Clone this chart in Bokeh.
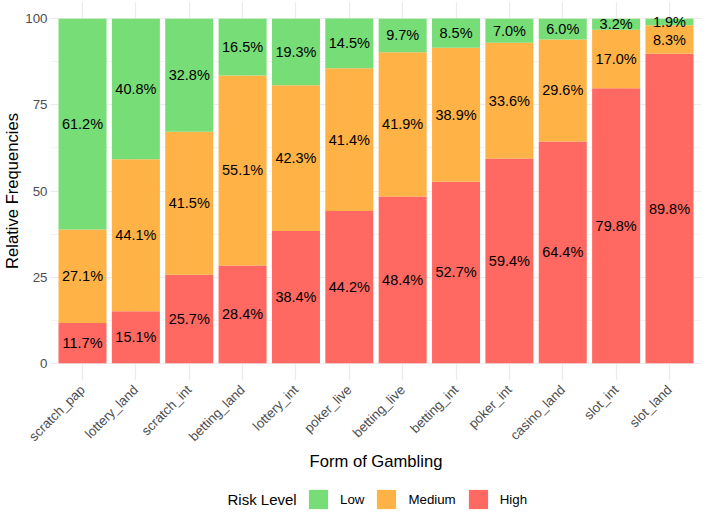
import math
from bokeh.plotting import figure
from bokeh.layouts import column
from bokeh.models import (FactorRange, Range1d, ColumnDataSource, FixedTicker,
                          Legend, LegendItem, Label)
from bokeh.core.properties import value
from bokeh.embed import file_html
from bokeh.resources import INLINE

categories = ["scratch_pap", "lottery_land", "scratch_int", "betting_land",
              "lottery_int", "poker_live", "betting_live", "betting_int",
              "poker_int", "casino_land", "slot_int", "slot_land"]
high = [11.7, 15.1, 25.7, 28.4, 38.4, 44.2, 48.4, 52.7, 59.4, 64.4, 79.8, 89.8]
medium = [27.1, 44.1, 41.5, 55.1, 42.3, 41.4, 41.9, 38.9, 33.6, 29.6, 17.0, 8.3]
low = [61.2, 40.8, 32.8, 16.5, 19.3, 14.5, 9.7, 8.5, 7.0, 6.0, 3.2, 1.9]
risk_levels = ["Low", "Medium", "High"]
risk_colors = {"Low": "#77DD77", "Medium": "#FFB347", "High": "#FF6961"}
y_ticks = [0, 25, 50, 75, 100]
y_minor = [12.5, 37.5, 62.5, 87.5]

FONT = "Liberation Sans"

x_range = FactorRange(factors=categories, range_padding=0.1,
                      range_padding_units="absolute")
p = figure(x_range=x_range, y_range=Range1d(-5, 105),
           width=701, height=486, output_backend="svg", toolbar_location=None,
           min_border_left=0, min_border_right=0, min_border_top=1,
           min_border_bottom=106)
p.outline_line_color = None
p.background_fill_color = "white"

src = ColumnDataSource(dict(cat=categories, High=high, Medium=medium, Low=low))
stack_order = ["High", "Medium", "Low"]
p.vbar_stack(stack_order, x="cat", width=0.9, source=src,
             fill_color=[risk_colors[k] for k in stack_order], line_color=None)

# segment labels
lx, ly, lt = [], [], []
for c, h, m, l in zip(categories, high, medium, low):
    for base, v in ((0, h), (h, m), (h + m, l)):
        lx.append(c)
        ly.append(base + v / 2)
        lt.append(f"{v:.1f}%")
lsrc = ColumnDataSource(dict(x=lx, y=ly, t=lt))
p.text(x="x", y="y", text="t", source=lsrc, text_align="center",
       text_baseline="middle", text_font=value(FONT), text_font_size="14.5px",
       text_color="black")

# axes
p.yaxis.ticker = FixedTicker(ticks=y_ticks, minor_ticks=y_minor)
for ax in (p.xaxis[0], p.yaxis[0]):
    ax.axis_line_color = None
    ax.major_tick_line_color = None
    ax.minor_tick_line_color = None
    ax.major_tick_out = 0
    ax.major_tick_in = 0
    ax.minor_tick_out = 0
    ax.minor_tick_in = 0
    ax.major_label_text_font = FONT
    ax.major_label_text_font_size = "13.3px"
    ax.major_label_text_color = "#4D4D4D"
    ax.axis_label_text_font = FONT
    ax.axis_label_text_font_size = "16.6px"
    ax.axis_label_text_font_style = "normal"
    ax.axis_label_text_color = "black"
p.yaxis.axis_label = "Relative Frequencies"
p.yaxis.major_label_standoff = 3
p.yaxis.axis_label_standoff = 0
p.xaxis.axis_label = "Form of Gambling"
p.xaxis.major_label_orientation = math.pi / 4
p.xaxis.major_label_standoff = 7
p.xaxis.axis_label_standoff = 0

# grids
p.xgrid.grid_line_color = "#EBEBEB"
p.xgrid.grid_line_width = 1.2
p.ygrid.grid_line_color = "#EBEBEB"
p.ygrid.grid_line_width = 1.2
p.ygrid.minor_grid_line_color = "#EBEBEB"
p.ygrid.minor_grid_line_width = 0.6

# legend row (separate strip below the chart, bars kept out of its view)
pl = figure(x_range=x_range, y_range=Range1d(1000, 1025),
            width=701, height=25, output_backend="svg", toolbar_location=None,
            x_axis_location=None, y_axis_location=None, min_border=0,
            min_border_left=0, min_border_right=0)
pl.outline_line_color = None
pl.xgrid.visible = False
pl.ygrid.visible = False
lrs = pl.vbar_stack(stack_order, x="cat", width=0.9, source=src,
                    fill_color=[risk_colors[k] for k in stack_order], line_color=None)
lmap = dict(zip(stack_order, lrs))
legend = Legend(items=[LegendItem(label=k, renderers=[lmap[k]]) for k in risk_levels],
                orientation="horizontal", location=(256, 0))
legend.glyph_width = 24
legend.glyph_height = 24
legend.label_standoff = 10
legend.spacing = 10
legend.padding = 0
legend.margin = 0
legend.border_line_color = None
legend.background_fill_alpha = 0
legend.label_text_font = FONT
legend.label_text_font_size = "13.3px"
legend.label_text_color = "black"
pl.add_layout(legend, "center")
pl.add_layout(Label(x=177, y=12.5, x_units="screen", y_units="screen",
                    text="Risk Level", text_font=FONT, text_font_size="15px",
                    text_color="black", text_baseline="middle", text_align="left"))

layout = column(p, pl, spacing=0)
open("out.html", "w").write(file_html(layout, INLINE))
